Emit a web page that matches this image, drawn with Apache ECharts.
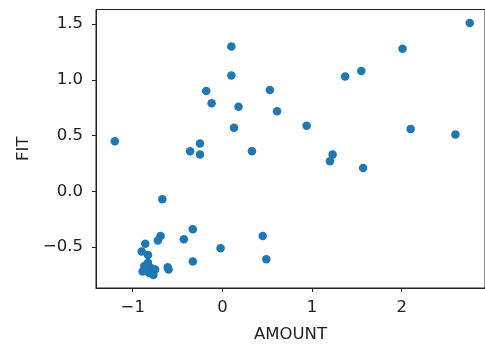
<!DOCTYPE html>
<html>
<head>
<meta charset="utf-8">
<script src="https://cdn.jsdelivr.net/npm/echarts@6/dist/echarts.min.js"></script>
<style>
  html, body { margin: 0; padding: 0; background: #fff; }
  #chart { width: 485px; height: 348px; }
</style>
</head>
<body>
<div id="chart"></div>
<script>
// AMOUNT vs FIT observations
const amount = [
  0.10, 0.10, 0.53, -0.18, -0.12, 0.18, 0.61, 0.13, -1.20, -0.25,
  -0.36, -0.25, 0.33, -0.67, -0.33, -0.43, 0.45, -0.02, 0.49, -0.33,
  -0.69, -0.72, -0.86, -0.90, -0.83, -0.83, -0.89, -0.82, -0.79, -0.77,
  -0.75, -0.61, -0.60, 2.76, 2.01, 1.55, 1.37, 0.94, 2.10, 2.60,
  1.23, 1.20, 1.57, -0.87
];
const fit = [
  1.30, 1.04, 0.91, 0.90, 0.79, 0.76, 0.72, 0.57, 0.45, 0.43,
  0.36, 0.33, 0.36, -0.07, -0.34, -0.43, -0.40, -0.51, -0.61, -0.63,
  -0.40, -0.44, -0.47, -0.54, -0.57, -0.64, -0.72, -0.73, -0.69, -0.75,
  -0.70, -0.68, -0.70, 1.51, 1.28, 1.08, 1.03, 0.59, 0.56, 0.51,
  0.33, 0.27, 0.21, -0.67
];
const xTicks = [-1, 0, 1, 2];
const yTicks = [-0.5, 0.0, 0.5, 1.0, 1.5];

const points = amount.map((a, i) => [a, fit[i]]);
const ink = '#222';
const font = 'DejaVu Sans';
const size = 16.5;

const chart = echarts.init(document.getElementById('chart'), null, { renderer: 'canvas' });
chart.setOption({
  animation: false,
  grid: {
    left: 96, top: 9.5, right: -1, bottom: 52.5,
    show: true, borderColor: ink, borderWidth: 1, backgroundColor: '#fff'
  },
  xAxis: {
    type: 'value', min: -1.41, max: 2.93,
    name: 'AMOUNT', nameLocation: 'middle', nameGap: 38,
    nameTextStyle: { color: ink, fontFamily: font, fontSize: size },
    splitLine: { show: false },
    axisLine: { show: true, onZero: false, lineStyle: { color: ink, width: 1 } },
    axisTick: { show: true, length: 4, lineStyle: { color: ink }, customValues: xTicks },
    axisLabel: {
      color: ink, fontFamily: font, fontSize: size, margin: 11,
      customValues: xTicks,
      formatter: v => String(v).replace('-', '\u2212')
    }
  },
  yAxis: {
    type: 'value', min: -0.867, max: 1.632,
    name: 'FIT', nameLocation: 'middle', nameGap: 63, nameRotate: 90,
    nameTextStyle: { color: ink, fontFamily: font, fontSize: size },
    splitLine: { show: false },
    axisLine: { show: true, onZero: false, lineStyle: { color: ink, width: 1 } },
    axisTick: { show: true, length: 4, lineStyle: { color: ink }, customValues: yTicks },
    axisLabel: {
      color: ink, fontFamily: font, fontSize: size, margin: 13,
      customValues: yTicks,
      formatter: v => v.toFixed(1).replace('-', '\u2212')
    }
  },
  series: [{
    type: 'scatter',
    data: points,
    symbol: 'circle',
    symbolSize: 8.5,
    itemStyle: { color: '#1f77b4', opacity: 1 }
  }]
});
</script>
</body>
</html>
